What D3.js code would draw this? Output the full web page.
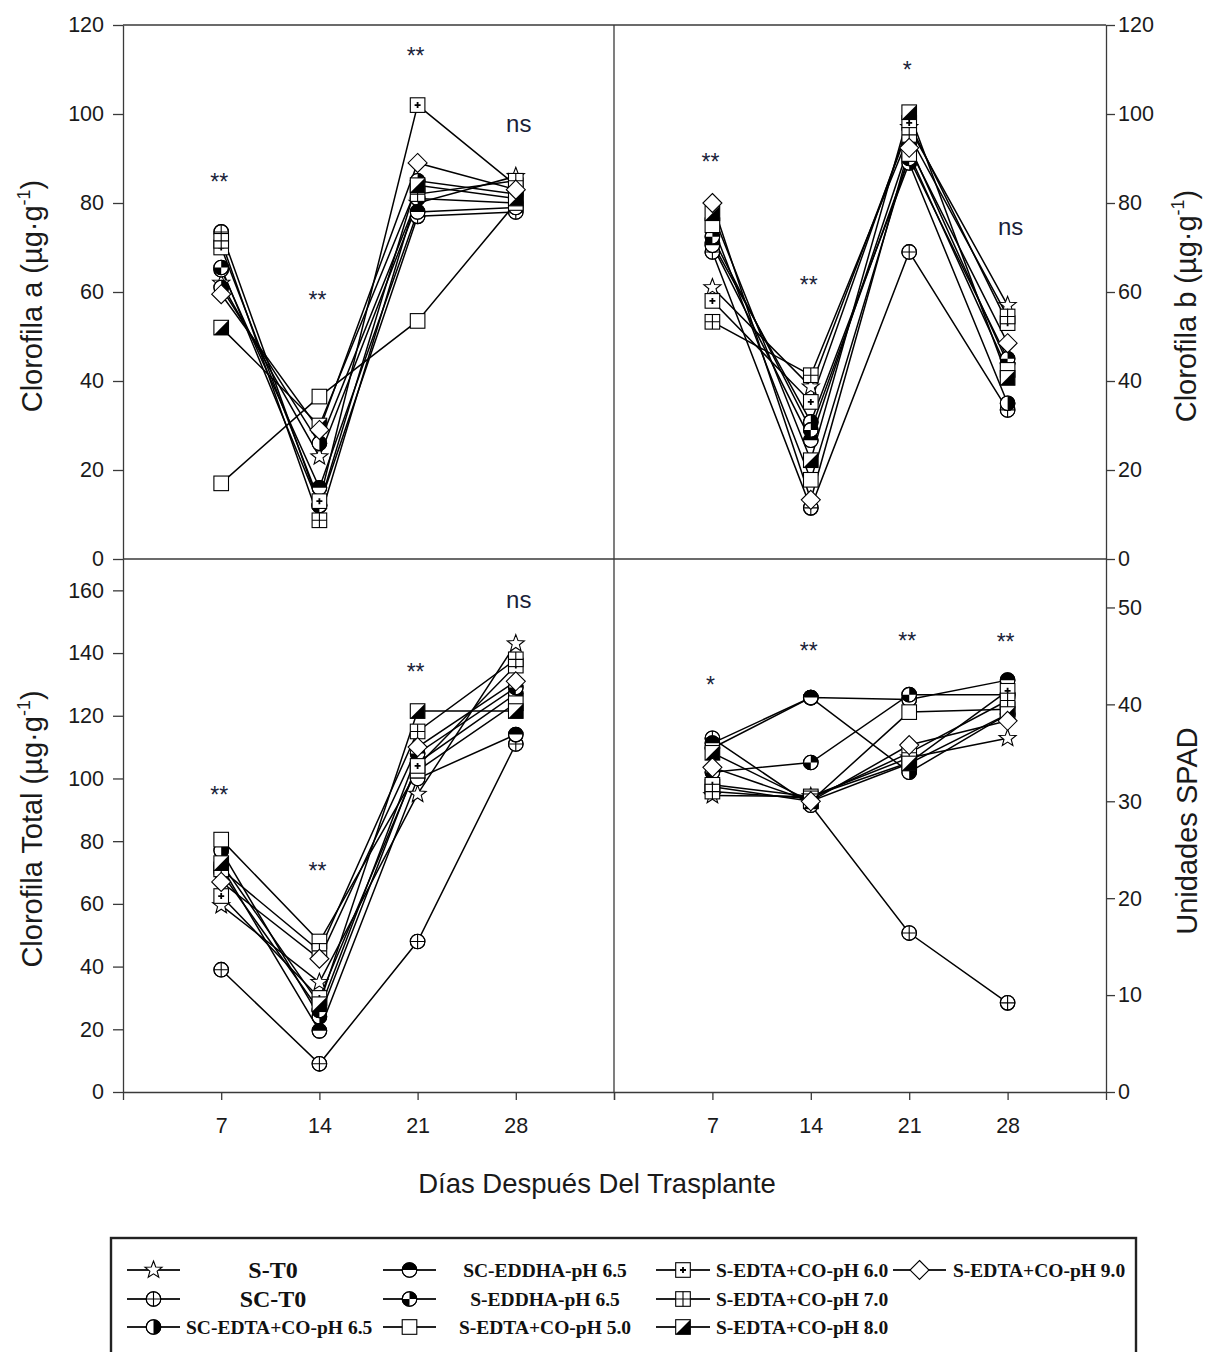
<!DOCTYPE html>
<html>
<head>
<meta charset="utf-8">
<script src="https://cdn.jsdelivr.net/npm/d3@7"></script>
<style>
  body { margin: 0; background: #fff; }
  svg { display: block; }
</style>
</head>
<body>
<svg id="chart" width="1206" height="1352"></svg>
<script>
// ---------------- DATA ----------------
const days = [7, 14, 21, 28];
const xTicks = [0, 7, 14, 21, 28, 35];
const seriesNames = ["S-T0", "SC-T0", "SC-EDTA+CO-pH 6.5", "SC-EDDHA-pH 6.5", "S-EDDHA-pH 6.5",
  "S-EDTA+CO-pH 5.0", "S-EDTA+CO-pH 6.0", "S-EDTA+CO-pH 7.0", "S-EDTA+CO-pH 8.0", "S-EDTA+CO-pH 9.0"];
const markerTypes = ["star", "circlePlus", "circleHalfRight", "circleHalfTop", "circleQuad",
  "square", "squareDot", "squareGrid", "squareDiag", "diamond"];

// Clorofila a (µg·g-1), one row per series, columns = days
const chlA = [
  [62, 23, 80, 86],
  [73.5, 12, 77, 78],
  [61, 26, 81, 80],
  [65, 16, 78, 79],
  [65.5, 12, 85, 82],
  [17, 36.5, 53.5, 80],
  [70, 13, 102, 84],
  [71.5, 8.7, 82, 85],
  [52, 30, 84, 81],
  [59.5, 29, 89, 83]
];
// Clorofila b
const chlB = [
  [61, 38.7, 97, 57],
  [69, 11.5, 69, 33.5],
  [71, 30.8, 89, 35],
  [70.5, 26.7, 93, 44],
  [72.4, 29, 90, 45],
  [75, 17.8, 91, 42.5],
  [58, 35.3, 98, 53],
  [53.3, 41.3, 95.3, 54.5],
  [77.7, 22.2, 100.4, 40.7],
  [80, 13.3, 92.4, 48.5]
];
// Clorofila Total
const chlT = [
  [59.5, 35, 95, 143],
  [39, 9, 48, 111],
  [77, 24, 105, 127],
  [72, 19.5, 100, 114],
  [70, 26, 108, 129],
  [80.5, 48, 102.5, 124],
  [62.5, 30, 104, 136],
  [71, 45, 115, 138],
  [73, 28, 121.5, 121.5],
  [67, 42.5, 110, 131]
];
// Unidades SPAD
const spad = [
  [30.6, 30.5, 34.5, 36.5],
  [36.5, 29.6, 16.4, 9.2],
  [35.5, 40.7, 33, 39],
  [36, 40.7, 40.5, 42.5],
  [33, 34, 41, 41],
  [31.5, 30, 39.2, 39.5],
  [31.7, 30.5, 34, 41.4],
  [31, 30.3, 35, 40.4],
  [35, 30, 33.9, 39],
  [33.5, 30, 35.8, 38.3]
];

// significance labels and the level (data units) at which they sit
const sigA = ["**", "**", "**", "ns"];
const sigLevelA = [85.8, 59.3, 114.2, 97.5];
const sigB = ["**", "**", "*", "ns"];
const sigLevelB = [90.3, 62.7, 111, 74.4];
const sigT = ["**", "**", "**", "ns"];
const sigLevelT = [96.3, 72.1, 135.6, 156.6];
const sigS = ["*", "**", "**", "**"];
const sigLevelS = [42.5, 46, 47.1, 46.9];

const ticksAB = [0, 20, 40, 60, 80, 100, 120];
const ticksT = [0, 20, 40, 60, 80, 100, 120, 140, 160];
const ticksS = [0, 10, 20, 30, 40, 50];

// ---------------- LAYOUT ----------------
const svg = d3.select("#chart");
svg.append("rect").attr("width", 1206).attr("height", 1352).attr("fill", "#fff");

const X0 = 123, XM = 614, X1 = 1106;
const Y0 = 25, YM = 559, Y1 = 1092;
const axisColor = "#3a3a3a";
const font = "Arial, 'Liberation Sans', sans-serif";

const xLeft = d3.scaleLinear().domain([0, 35]).range([X0, XM]);
const xRight = d3.scaleLinear().domain([0, 35]).range([XM, X1]);
const yA = d3.scaleLinear().domain([0, 120]).range([YM, Y0]);
const yB = d3.scaleLinear().domain([0, 120]).range([YM, Y0]);
const yT = d3.scaleLinear().domain([0, 170]).range([Y1, YM]);
const yS = d3.scaleLinear().domain([0, 55]).range([Y1, YM]);

// frame lines
const frame = svg.append("g").attr("stroke", axisColor).attr("stroke-width", 1.3);
frame.append("line").attr("x1", X0).attr("x2", X1).attr("y1", Y0).attr("y2", Y0);
frame.append("line").attr("x1", X0).attr("x2", X1).attr("y1", YM).attr("y2", YM);
frame.append("line").attr("x1", XM).attr("x2", XM).attr("y1", Y0).attr("y2", Y1);

function styleAxis(g) {
  g.selectAll("path.domain").attr("stroke", axisColor).attr("stroke-width", 1.3);
  g.selectAll(".tick line").attr("stroke", axisColor).attr("stroke-width", 1.3);
  g.selectAll(".tick text").attr("fill", "#1a1a1a").style("font-family", font).style("font-size", "21.5px");
}

// y axes
svg.append("g").attr("transform", `translate(${X0},0)`)
  .call(d3.axisLeft(yA).tickValues(ticksAB).tickSize(10).tickSizeOuter(0).tickPadding(9)).call(styleAxis);
svg.append("g").attr("transform", `translate(${X0},0)`)
  .call(d3.axisLeft(yT).tickValues(ticksT).tickSize(10).tickSizeOuter(0).tickPadding(9)).call(styleAxis);
svg.append("g").attr("transform", `translate(${X1},0)`)
  .call(d3.axisRight(yB).tickValues(ticksAB).tickSize(9).tickSizeOuter(0).tickPadding(3)).call(styleAxis);
svg.append("g").attr("transform", `translate(${X1},0)`)
  .call(d3.axisRight(yS).tickValues(ticksS).tickSize(9).tickSizeOuter(0).tickPadding(3)).call(styleAxis);

// x axes
const xFmt = d => (d === 0 || d === 35) ? "" : d;
svg.append("g").attr("transform", `translate(0,${Y1})`)
  .call(d3.axisBottom(xLeft).tickValues(xTicks).tickFormat(xFmt).tickSize(8).tickSizeOuter(0).tickPadding(18)).call(styleAxis);
svg.append("g").attr("transform", `translate(0,${Y1})`)
  .call(d3.axisBottom(xRight).tickValues(xTicks).tickFormat(xFmt).tickSize(8).tickSizeOuter(0).tickPadding(18)).call(styleAxis);

// ---------------- MARKERS ----------------
function drawMarker(g, type) {
  const s = 7.3;
  const st = { stroke: "#000", "stroke-width": 1.1 };
  const apply = (sel) => { Object.entries(st).forEach(([k, v]) => sel.attr(k, v)); return sel; };
  if (type === "star") {
    const pts = [];
    for (let i = 0; i < 10; i++) {
      const r = i % 2 === 0 ? 9 : 3.8;
      const a = -Math.PI / 2 + i * Math.PI / 5;
      pts.push([r * Math.cos(a), r * Math.sin(a)]);
    }
    apply(g.append("path").attr("d", "M" + pts.join("L") + "Z").attr("fill", "#fff"));
  } else if (type.startsWith("circle")) {
    apply(g.append("circle").attr("r", s).attr("fill", "#fff"));
    if (type === "circlePlus") {
      apply(g.append("path").attr("d", `M${-s},0H${s}M0,${-s}V${s}`).attr("fill", "none"));
    } else if (type === "circleHalfRight") {
      g.append("path").attr("d", `M0,${-s}A${s},${s} 0 0,1 0,${s}Z`).attr("fill", "#000");
    } else if (type === "circleHalfTop") {
      g.append("path").attr("d", `M${-s},0A${s},${s} 0 0,1 ${s},0Z`).attr("fill", "#000");
    } else if (type === "circleQuad") {
      g.append("path").attr("d", `M0,0L0,${-s}A${s},${s} 0 0,1 ${s},0Z M0,0L0,${s}A${s},${s} 0 0,1 ${-s},0Z`).attr("fill", "#000");
    }
    apply(g.append("circle").attr("r", s).attr("fill", "none"));
  } else if (type.startsWith("square")) {
    apply(g.append("rect").attr("x", -s).attr("y", -s).attr("width", 2 * s).attr("height", 2 * s).attr("fill", "#fff"));
    if (type === "squareDot") {
      g.append("path").attr("d", "M-3,0H3M0,-3V3").attr("stroke", "#000").attr("stroke-width", 1.8);
    } else if (type === "squareGrid") {
      apply(g.append("path").attr("d", `M${-s},0H${s}M0,${-s}V${s}`).attr("fill", "none"));
    } else if (type === "squareDiag") {
      g.append("path").attr("d", `M${s},${-s}L${s},${s}L${-s},${s}Z`).attr("fill", "#000");
    }
  } else if (type === "diamond") {
    apply(g.append("path").attr("d", "M0,-9.5L9.5,0L0,9.5L-9.5,0Z").attr("fill", "#fff"));
  }
}

// ---------------- PANELS ----------------
const panels = [
  { data: chlA, x: xLeft, y: yA, sig: sigA, lvl: sigLevelA },
  { data: chlB, x: xRight, y: yB, sig: sigB, lvl: sigLevelB },
  { data: chlT, x: xLeft, y: yT, sig: sigT, lvl: sigLevelT },
  { data: spad, x: xRight, y: yS, sig: sigS, lvl: sigLevelS }
];

panels.forEach(p => {
  const line = d3.line().x((d, i) => p.x(days[i])).y(d => p.y(d));
  const g = svg.append("g");
  p.data.forEach(row => {
    g.append("path").attr("d", line(row)).attr("fill", "none")
      .attr("stroke", "#000").attr("stroke-width", 1.5);
  });
  p.data.forEach((row, si) => {
    row.forEach((v, i) => {
      const mg = g.append("g").attr("transform", `translate(${p.x(days[i])},${p.y(v)})`);
      drawMarker(mg, markerTypes[si]);
    });
  });
  // significance labels
  p.sig.forEach((s, i) => {
    const isNs = s === "ns";
    svg.append("text")
      .attr("x", p.x(days[i]) + (isNs ? 3 : -2))
      .attr("y", p.y(p.lvl[i]) + (isNs ? 7 : 13))
      .attr("text-anchor", "middle")
      .attr("fill", "#1b1f3a")
      .style("font-family", font)
      .style("font-size", isNs ? "24px" : "23px")
      .text(s);
  });
});

// ---------------- AXIS TITLES ----------------
function yTitle(x, y, main) {
  const t = svg.append("text")
    .attr("transform", `translate(${x},${y}) rotate(-90)`)
    .attr("text-anchor", "middle")
    .attr("fill", "#1a1a1a")
    .style("font-family", font).style("font-size", "29px");
  t.append("tspan").text(main);
  return t;
}
function unitTitle(x, y, main) {
  const t = yTitle(x, y, main + " (µg·g");
  t.append("tspan").attr("dy", -12).style("font-size", "18px").text("-1");
  t.append("tspan").attr("dy", 12).text(")");
}
unitTitle(42, 296, "Clorofila a");
unitTitle(1196, 306, "Clorofila b");
unitTitle(42, 829, "Clorofila Total");
yTitle(1197, 831, "Unidades SPAD");

svg.append("text").attr("x", 597).attr("y", 1193).attr("text-anchor", "middle")
  .attr("fill", "#1a1a1a").style("font-family", font).style("font-size", "27.5px")
  .text("Días Después Del Trasplante");

// ---------------- LEGEND ----------------
const lg = svg.append("g");
lg.append("rect").attr("x", 111).attr("y", 1238).attr("width", 1025).attr("height", 130)
  .attr("fill", "#fff").attr("stroke", "#222").attr("stroke-width", 2.4);

const legCols = [
  { lx1: 127, lx2: 180, anchor: "middle", tx: 273 },
  { lx1: 383, lx2: 436, anchor: "middle", tx: 545 },
  { lx1: 656, lx2: 710, anchor: "start", tx: 716 },
  { lx1: 893, lx2: 946, anchor: "start", tx: 953 }
];
const legRows = [1270, 1299, 1327];
// series index -> [column, row]
const legPos = [[0, 0], [0, 1], [0, 2], [1, 0], [1, 1], [1, 2], [2, 0], [2, 1], [2, 2], [3, 0]];
const serif = "'Liberation Serif', 'Times New Roman', serif";

seriesNames.forEach((name, si) => {
  const [c, r] = legPos[si];
  const col = legCols[c], y = legRows[r];
  lg.append("line").attr("x1", col.lx1).attr("x2", col.lx2).attr("y1", y).attr("y2", y)
    .attr("stroke", "#222").attr("stroke-width", 2.2);
  const mg = lg.append("g").attr("transform", `translate(${(col.lx1 + col.lx2) / 2},${y})`);
  drawMarker(mg, markerTypes[si]);
  const big = (si === 0 || si === 1);
  let tx = col.tx, anchor = col.anchor;
  if (si === 2) { tx = 186; anchor = "start"; }
  lg.append("text").attr("x", tx).attr("y", y + (big ? 8 : 6.5))
    .attr("text-anchor", anchor)
    .attr("fill", "#111")
    .style("font-family", serif).style("font-weight", "bold")
    .style("font-size", big ? "24px" : "19.5px")
    .text(name);
});
</script>
</body>
</html>
